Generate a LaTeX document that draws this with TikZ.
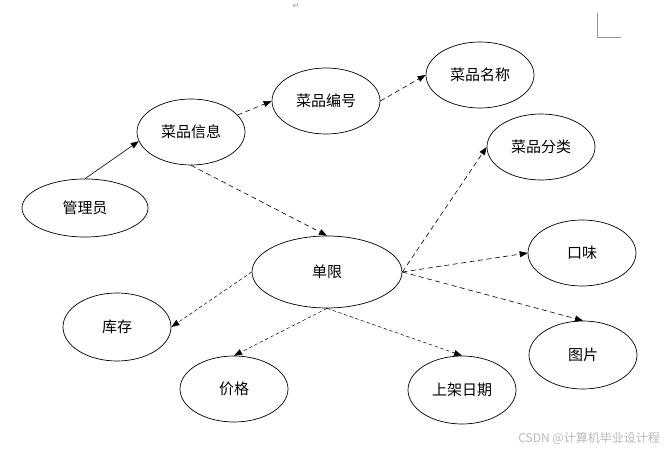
\documentclass[tikz,border=0pt]{standalone}
\usepackage{fontspec}
\newfontfamily\cjk{Noto Sans CJK SC}
\usetikzlibrary{arrows.meta,shapes.geometric}
\definecolor{markgray}{RGB}{150,150,150}
\definecolor{wmgray}{RGB}{185,185,185}
\tikzset{
  ent/.style={ellipse,draw=black,line width=0.7pt,inner sep=0pt,
    minimum width=108pt,minimum height=66pt,font=\cjk\fontsize{15}{18}\selectfont},
  tip/.style={-{Triangle[length=8pt,width=6pt]}},
  lnk/.style={tip,line width=0.6pt,dash pattern=on 5pt off 3.5pt},
  flnk/.style={tip,line width=0.5pt,dash pattern=on 3.5pt off 2.5pt},
}
\begin{document}
\begin{tikzpicture}[x=1pt,y=-1pt]
\useasboundingbox (0,0) rectangle (665,452);
% entities
\node[ent,minimum width=126pt,minimum height=58pt] (gly) at (85,208) {管理员};
\node[ent] (xx) at (191,132) {菜品信息};
\node[ent] (bh) at (326,101) {菜品编号};
\node[ent] (mc) at (480,75) {菜品名称};
\node[ent] (fl) at (541,147) {菜品分类};
\node[ent,minimum width=150pt,minimum height=72pt] (dx) at (327,272) {单限};
\node[ent] (kw) at (582,253) {口味};
\node[ent,minimum height=68pt] (kc) at (117,327) {库存};
\node[ent,minimum height=68pt] (tp) at (583,355) {图片};
\node[ent] (jg) at (234,389) {价格};
\node[ent,minimum height=68pt] (sj) at (462,390) {上架日期};
% links
\draw[tip,line width=0.6pt] (gly.north) -- (xx.190);
\draw[lnk] (xx.20) -- (bh.west);
\draw[lnk] (bh.east) -- (mc.west);
\draw[lnk] (xx.south) -- (dx.north);
\draw[lnk] (dx.east) -- (fl.west);
\draw[lnk] (dx.east) -- (kw.west);
\draw[lnk] (dx.east) -- (tp.north);
\draw[flnk] (dx.west) -- (kc.east);
\draw[flnk] (dx.south) -- (jg.north);
\draw[flnk] (dx.south) -- (sj.north);
% page marks
\node[text=markgray,font=\fontsize{8}{8}\selectfont] (ret) at (296,6) {\fontspec{DejaVu Sans}↵};
\draw[markgray,line width=0.6pt] (597,13) -- (597,37) -- (621,37);
\node[text=wmgray,anchor=east,inner sep=0pt,font=\cjk\fontsize{12}{13}\selectfont] (wm) at (660,438) {CSDN @计算机毕业设计程};
\end{tikzpicture}
\end{document}
